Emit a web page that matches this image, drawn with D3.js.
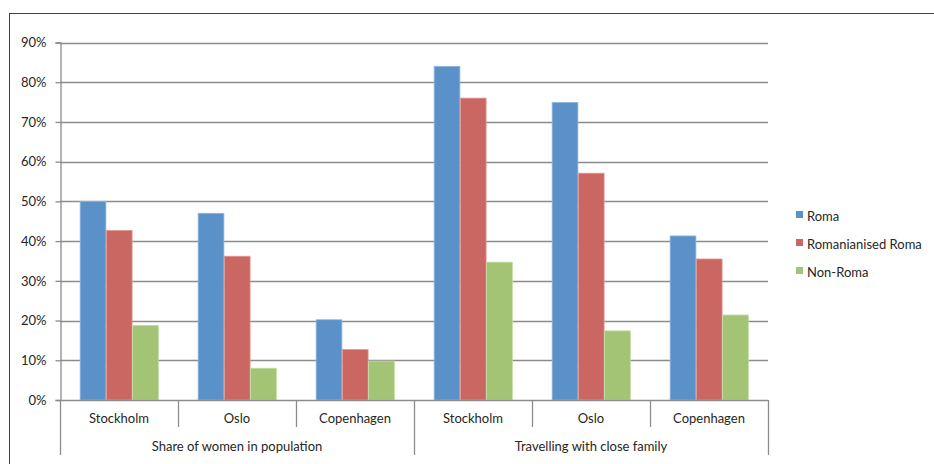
<!DOCTYPE html>
<html><head><meta charset="utf-8">
<script src="https://cdn.jsdelivr.net/npm/d3@7"></script>
<style>
html,body{margin:0;padding:0;background:#fff;}
text{font-family:"Lato","Noto Sans",sans-serif;fill:#262626;}
</style></head>
<body><svg id="c" width="934" height="464"></svg>
<script>
const groups = ["Share of women in population", "Travelling with close family"];
const cities = ["Stockholm", "Oslo", "Copenhagen"];
const seriesNames = ["Roma", "Romanianised Roma", "Non-Roma"];
const roma =        [50.0, 47.0, 20.2, 84.0, 74.9, 41.3];
const romanianised = [42.7, 36.2, 12.7, 76.0, 57.1, 35.5];
const nonRoma =     [18.8, 8.0, 9.8, 34.7, 17.4, 21.4];
const yTicks = [0, 10, 20, 30, 40, 50, 60, 70, 80, 90];
const colors = ["#5A91C8", "#CB6762", "#A2C474"];
const strokes = ["#8FB6DE", "#E09A96", "#C3DCA3"];

const seriesValues = [roma, romanianised, nonRoma];
const cats = [];
groups.forEach((g, gi) => cities.forEach((c, ci) => cats.push({key: gi + "-" + ci, city: c, group: g, gi})));

const svg = d3.select("#c");
const mLeft = 60, mRight = 768, mTop = 42.5, mBottom = 400;

// outer frame
svg.append("line").attr("x1", 10).attr("x2", 934).attr("y1", 13.5).attr("y2", 13.5).attr("stroke", "#404040").attr("stroke-width", 1);
svg.append("line").attr("x1", 9.5).attr("x2", 9.5).attr("y1", 13).attr("y2", 464).attr("stroke", "#404040").attr("stroke-width", 1);

const x = d3.scaleBand().domain(cats.map(d => d.key)).range([mLeft, mRight]).paddingInner(0).paddingOuter(0);
const y = d3.scaleLinear().domain([0, 90]).range([mBottom, mTop]);
const xs = d3.scaleBand().domain(seriesNames).range([0, x.bandwidth()]).paddingInner(0).paddingOuter(0.75);

// gridlines
svg.append("g").selectAll("line").data(yTicks.filter(t => t > 0)).join("line")
  .attr("x1", mLeft).attr("x2", mRight)
  .attr("y1", d => Math.round(y(d)) + 0.5).attr("y2", d => Math.round(y(d)) + 0.5)
  .attr("stroke", "#8C8C8C").attr("stroke-width", 1.3);

// y axis
const yAxis = d3.axisLeft(y).tickValues(yTicks).tickFormat(d => d + "%").tickSize(5).tickPadding(9);
const ya = svg.append("g").attr("transform", `translate(${mLeft + 0.5},0)`).call(yAxis);
ya.select(".domain").attr("stroke", "#8C8C8C").attr("stroke-width", 1.3);
ya.selectAll(".tick line").attr("stroke", "#8C8C8C").attr("stroke-width", 1.3);
ya.selectAll(".tick text").style("font-size", "13px").style("fill", "#262626")
  .style("font-family", "Lato, 'Noto Sans', sans-serif");

// bars
seriesNames.forEach((s, si) => {
  svg.append("g").selectAll("rect").data(cats).join("rect")
    .attr("x", d => x(d.key) + xs(s) + 0.5)
    .attr("width", xs.bandwidth() - 0.5)
    .attr("y", (d, i) => y(seriesValues[si][i]))
    .attr("height", (d, i) => mBottom - y(seriesValues[si][i]))
    .attr("fill", colors[si])
    .attr("stroke", strokes[si]).attr("stroke-width", 0.8);
});

// x axis baseline
svg.append("line").attr("x1", mLeft).attr("x2", mRight).attr("y1", mBottom + 0.5).attr("y2", mBottom + 0.5)
  .attr("stroke", "#8C8C8C").attr("stroke-width", 1.3);

// category separators
const seps = cats.map(d => x(d.key)).concat([mRight]);
svg.append("g").selectAll("line").data(seps).join("line")
  .attr("x1", d => Math.round(d) + 0.5).attr("x2", d => Math.round(d) + 0.5)
  .attr("y1", mBottom).attr("y2", (d, i) => (i % 3 === 0) ? 455 : 427)
  .attr("stroke", "#8C8C8C").attr("stroke-width", 1.3);

// city labels
svg.append("g").selectAll("text").data(cats).join("text")
  .attr("x", d => x(d.key) + x.bandwidth() / 2).attr("y", 422.5)
  .attr("text-anchor", "middle").style("font-size", "13px").text(d => d.city);

// group labels
svg.append("g").selectAll("text").data(groups).join("text")
  .attr("x", (g, gi) => (x(gi + "-0") + x(gi + "-2") + x.bandwidth()) / 2).attr("y", 451)
  .attr("text-anchor", "middle").style("font-size", "13px").text(d => d);

// legend
const lg = svg.append("g").selectAll("g").data(seriesNames).join("g")
  .attr("transform", (d, i) => `translate(796,${216 + i * 28})`);
lg.append("rect").attr("x", 0).attr("y", -5).attr("width", 7).attr("height", 7).attr("fill", (d, i) => colors[i]);
lg.append("text").attr("x", 11).attr("y", 4.5).style("font-size", "13px").text(d => d);
</script></body></html>
